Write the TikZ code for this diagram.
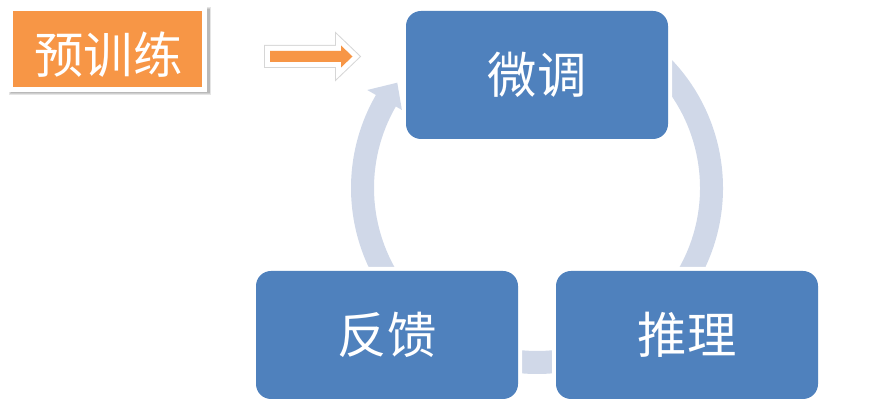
\documentclass[tikz,border=0pt]{standalone}
\usepackage{fontspec}
\newfontfamily\cjk{Noto Sans CJK SC}
\definecolor{boxblue}{RGB}{79,129,189}
\definecolor{arccol}{RGB}{208,216,232}
\definecolor{preorange}{RGB}{247,150,70}
\begin{document}
\begin{tikzpicture}[x=0.75pt,y=0.75pt,
  stepbox/.style={fill=boxblue, rounded corners=11.25pt, minimum width=196.5pt,
    minimum height=96pt, inner sep=0pt, text=white,
    font=\cjk\fontsize{37}{40}\selectfont, preaction={draw=white, line width=6pt}},
  cyc/.style={fill=arccol},
  prebox/.style={fill=preorange, minimum width=141.75pt, minimum height=57pt,
    inner sep=0pt, preaction={draw=white, line width=7.5pt}},
  pretext/.style={text=white, font=\cjk\fontsize{37}{40}\selectfont, inner sep=0pt},
  softshadow/.style={fill=black, opacity=0.10}
]
\useasboundingbox (0,0) rectangle (870,416);
\coordinate (C) at (537,228);
% left arc (feedback -> finetune), head visible
\fill[cyc] ([shift={(215:186)}]C) arc[start angle=215,end angle=150,radius=186]
  -- ([shift={(150:196)}]C) -- ([shift={(143:175)}]C) -- ([shift={(150:156)}]C)
  -- ([shift={(150:163)}]C) arc[start angle=150,end angle=215,radius=163] -- cycle;
% right arc (finetune -> inference)
\fill[cyc] ([shift={(50:186)}]C) arc[start angle=50,end angle=-33,radius=186]
  -- ([shift={(-33:196)}]C) -- ([shift={(-40:175)}]C) -- ([shift={(-33:156)}]C)
  -- ([shift={(-33:163)}]C) arc[start angle=-33,end angle=50,radius=163] -- cycle;
% bottom arc (inference -> feedback)
\fill[cyc] ([shift={(-60:186)}]C) arc[start angle=-60,end angle=-120,radius=186]
  -- ([shift={(-120:196)}]C) -- ([shift={(-127:175)}]C) -- ([shift={(-120:156)}]C)
  -- ([shift={(-120:163)}]C) arc[start angle=-120,end angle=-60,radius=163] -- cycle;
% boxes
\node[stepbox] (ft) at (537,341) {微调};
\node[stepbox] (fb) at (387,81) {反馈};
\node[stepbox] (inf) at (687,81) {推理};
% pretrain box with soft shadow
\fill[softshadow] (9,321) rectangle (211,409);
\fill[softshadow] (10,322) rectangle (210,408);
\fill[softshadow] (11,322.5) rectangle (209.5,407);
\node[prebox] (pre) at (107.5,367) {};
\node[pretext] (prelabel) at (108.5,361.5) {预训练};
% block arrow
\coordinate (a1) at (270,365);
\coordinate (a2) at (341,365);
\coordinate (a3) at (341,370.5);
\coordinate (a4) at (352.5,359.5);
\coordinate (a5) at (341,348.5);
\coordinate (a6) at (341,354);
\coordinate (a7) at (270,354);
\begin{scope}[shift={(2,-3)}]
\filldraw[black, opacity=0.16, line width=9pt, line join=miter]
  (a1) -- (a2) -- (a3) -- (a4) -- (a5) -- (a6) -- (a7) -- cycle;
\end{scope}
\filldraw[white, line width=7.5pt, line join=miter]
  (a1) -- (a2) -- (a3) -- (a4) -- (a5) -- (a6) -- (a7) -- cycle;
\fill[preorange] (a1) -- (a2) -- (a3) -- (a4) -- (a5) -- (a6) -- (a7) -- cycle;
\end{tikzpicture}
\end{document}
